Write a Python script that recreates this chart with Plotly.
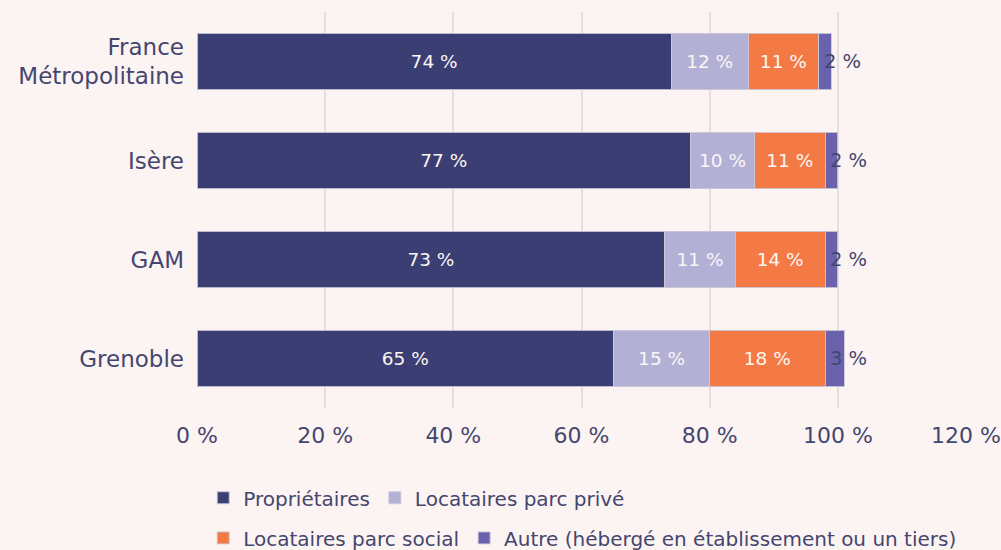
import plotly.graph_objects as go

# Répartition des ménages selon le statut d'occupation (%)
territoires = ["France<br>Métropolitaine", "Isère", "GAM", "Grenoble"]
proprietaires = [74, 77, 73, 65]
parc_prive = [12, 10, 11, 15]
parc_social = [11, 11, 14, 18]
autre = [2, 2, 2, 3]

series_names = [
    "Propriétaires",
    "Locataires parc privé",
    "Locataires parc social",
    "Autre (hébergé en établissement ou un tiers)",
]
series_colors = ["#3b3e72", "#b3b0d6", "#f47a45", "#6a62ac"]

x_ticks = [0, 20, 40, 60, 80, 100, 120]
x_tick_labels = [f"{v} %" for v in x_ticks]

FONT = "DejaVu Sans"
TEXT_COLOR = "#45466f"
BG = "#fcf4f2"

fig = go.Figure()
series = [proprietaires, parc_prive, parc_social, autre]
legends = ["legend", "legend", "legend2", "legend2"]
for i, (name, vals, col, lg) in enumerate(zip(series_names, series, series_colors, legends)):
    inside = i < 3
    fig.add_trace(go.Bar(
        y=territoires,
        x=vals,
        name=name,
        orientation="h",
        marker=dict(color=col, line=dict(color="rgba(205,200,215,0.9)", width=1)),
        width=0.57,
        text=[f"{v} %" for v in vals] if inside else None,
        texttemplate="%{text}" if inside else None,
        textposition="inside" if inside else "none",
        insidetextanchor="middle",
        textfont=dict(family=FONT, size=18.5, color="#fbf6f4"),
        constraintext="none",
        hoverinfo="skip",
        legend=lg,
    ))

# Labels of the last (thin) segment, written just after its start
for terr, a, b, c, d in zip(territoires, proprietaires, parc_prive, parc_social, autre):
    fig.add_annotation(
        x=a + b + c, y=terr, text=f"{d} %", showarrow=False,
        xanchor="left", xshift=3,
        font=dict(family=FONT, size=19.5, color=TEXT_COLOR),
    )

fig.update_layout(
    barmode="stack",
    width=1001, height=550,
    paper_bgcolor=BG, plot_bgcolor=BG,
    margin=dict(l=197, r=35, t=12, b=142),
    font=dict(family=FONT, color=TEXT_COLOR),
    xaxis=dict(
        range=[0, 120], tickvals=x_ticks, ticktext=x_tick_labels,
        showgrid=True, gridcolor="#e5dedd", gridwidth=1.5,
        zeroline=False, showline=False, automargin=False,
        tickfont=dict(family=FONT, size=22, color=TEXT_COLOR),
        ticks="", ticklabelstandoff=12,
    ),
    yaxis=dict(
        autorange="reversed", showgrid=False, zeroline=False, showline=False,
        automargin=False,
        tickfont=dict(family=FONT, size=23, color=TEXT_COLOR),
        ticklabelstandoff=12,
    ),
    legend=dict(
        orientation="h", xref="container", yref="container",
        x=0.203, y=0.095, xanchor="left", yanchor="middle",
        font=dict(family=FONT, size=20, color=TEXT_COLOR),
        bgcolor="rgba(0,0,0,0)", traceorder="normal",
    ),
    legend2=dict(
        orientation="h", xref="container", yref="container",
        x=0.203, y=0.022, xanchor="left", yanchor="middle",
        font=dict(family=FONT, size=20, color=TEXT_COLOR),
        bgcolor="rgba(0,0,0,0)", traceorder="normal",
    ),
    showlegend=True,
)

fig.write_html("out.html")
